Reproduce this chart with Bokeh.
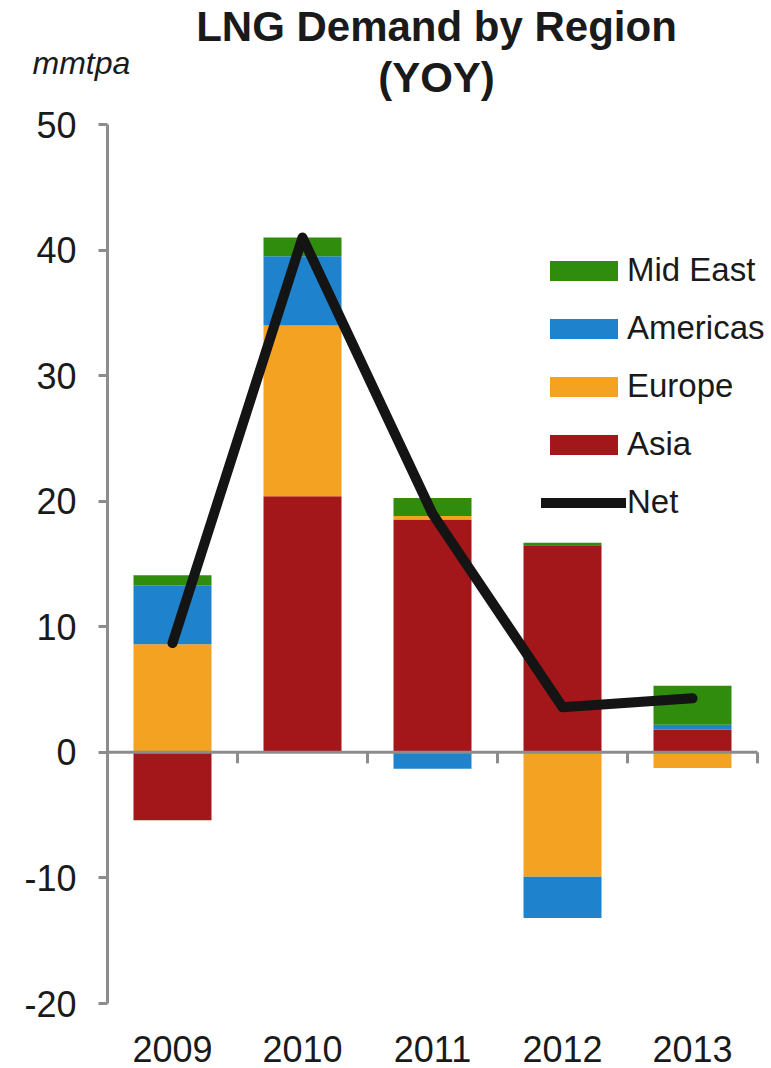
from bokeh.plotting import figure
from bokeh.models import (Range1d, FixedTicker, LinearAxis, Legend, LegendItem,
                          Label, ColumnDataSource)
from bokeh.embed import file_html
from bokeh.resources import INLINE

# LNG demand change by region, mmtpa year on year
years = ["2009", "2010", "2011", "2012", "2013"]
asia = [-5.4, 20.4, 18.55, 16.5, 1.8]
europe = [8.6, 13.6, 0.27, -9.9, -1.25]
americas = [4.7, 5.5, -1.3, -3.3, 0.4]
mid_east = [0.8, 1.5, 1.43, 0.2, 3.1]
net = [8.7, 41.0, 19.0, 3.6, 4.3]

series_names = ["Asia", "Europe", "Americas", "Mid East"]
series_values = [asia, europe, americas, mid_east]
series_colors = ["#A3171B", "#F3A221", "#1E83CC", "#2F8C0C"]

y_ticks = [-20, -10, 0, 10, 20, 30, 40, 50]

FONT = "Liberation Sans"
AXIS_GREY = "#8C8C8C"
TEXT = "#1A1A1A"

# layout in pixels
LEFT, AXIS_TOP, AXIS_BOTTOM, CAT_W = 107, 124, 1003, 130
W, H = 771, 1068
px_per_unit = (AXIS_BOTTOM - AXIS_TOP) / (y_ticks[-1] - y_ticks[0])

xs = list(range(1, len(years) + 1))
x_axis_pos = 0.5
x_lo = x_axis_pos - LEFT / CAT_W
x_hi = len(years) + 0.5 + (W - LEFT - CAT_W * len(years)) / CAT_W
y_hi = y_ticks[-1] + AXIS_TOP / px_per_unit
y_lo = y_ticks[0] - (H - AXIS_BOTTOM) / px_per_unit

p = figure(
    width=W, height=H,
    frame_width=W, frame_height=H,
    x_range=Range1d(x_lo, x_hi),
    y_range=Range1d(y_lo, y_hi),
    output_backend="svg", toolbar_location=None,
    min_border=0,
    x_axis_location=None, y_axis_location=None,
)
p.outline_line_color = None
p.xgrid.visible = False
p.ygrid.visible = False
p.background_fill_color = "white"
p.border_fill_color = "white"

# Stacked bars: positives stack upward, negatives stack downward
pos_base = [0.0] * len(years)
neg_base = [0.0] * len(years)
renderers = {}
for name, vals, color in zip(series_names, series_values, series_colors):
    bottoms, tops = [], []
    for i, v in enumerate(vals):
        if v >= 0:
            bottoms.append(pos_base[i])
            tops.append(pos_base[i] + v)
            pos_base[i] += v
        else:
            bottoms.append(neg_base[i])
            tops.append(neg_base[i] + v)
            neg_base[i] += v
    src = ColumnDataSource(dict(x=xs, bottom=bottoms, top=tops))
    renderers[name] = p.vbar(x="x", bottom="bottom", top="top", width=0.6,
                             source=src, fill_color=color, line_color=None)

# zero line with downward ticks between categories
p.segment(x0=[x_axis_pos], y0=[0], x1=[len(years) + 0.5], y1=[0],
          line_color=AXIS_GREY, line_width=3)
bounds = [x + 0.5 for x in xs]
p.segment(x0=bounds, y0=[0] * len(bounds), x1=bounds,
          y1=[-11 / px_per_unit] * len(bounds),
          line_color=AXIS_GREY, line_width=3)

# year labels along the bottom
year_axis = LinearAxis(
    fixed_location=y_ticks[0],
    ticker=FixedTicker(ticks=xs),
    major_label_overrides={x: y for x, y in zip(xs, years)},
    axis_line_color=None, major_tick_line_color=None, minor_tick_line_color=None,
    major_label_text_font=FONT, major_label_text_font_size="36px",
    major_label_text_color=TEXT, major_label_standoff=26,
)
p.add_layout(year_axis, "below")

y_axis = LinearAxis(
    fixed_location=x_axis_pos,
    ticker=FixedTicker(ticks=y_ticks),
    bounds=(y_ticks[0], y_ticks[-1]),
    major_label_overrides={t: str(t) for t in y_ticks},
    axis_line_color=AXIS_GREY, axis_line_width=3,
    major_tick_line_color=AXIS_GREY, major_tick_line_width=3,
    major_tick_in=0, major_tick_out=9,
    minor_tick_line_color=None,
    major_label_text_font=FONT, major_label_text_font_size="36px",
    major_label_text_color=TEXT, major_label_standoff=22,
)
p.add_layout(y_axis, "left")

# Net demand line
net_r = p.line(xs, net, line_color="#141414", line_width=10,
               line_cap="round", line_join="round")

legend = Legend(
    items=[LegendItem(label="Mid East", renderers=[renderers["Mid East"]]),
           LegendItem(label="Americas", renderers=[renderers["Americas"]]),
           LegendItem(label="Europe", renderers=[renderers["Europe"]]),
           LegendItem(label="Asia", renderers=[renderers["Asia"]]),
           LegendItem(label="Net", renderers=[net_r])],
    location=(541, 482 + H - AXIS_BOTTOM),
    glyph_width=85, glyph_height=25,
    label_text_font=FONT, label_text_font_size="33px",
    label_text_color=TEXT, label_standoff=1,
    spacing=20, padding=0, margin=0,
    border_line_color=None, background_fill_alpha=0,
)
p.add_layout(legend, "center")

# Title and unit label
mid_x = (xs[0] + xs[-1]) / 2
p.add_layout(Label(x=mid_x, y=y_ticks[-1], x_offset=4, y_offset=98,
                   text="LNG Demand by Region", text_align="center",
                   text_baseline="alphabetic", text_font=FONT,
                   text_font_size="42px", text_font_style="bold",
                   text_color=TEXT))
p.add_layout(Label(x=mid_x, y=y_ticks[-1], x_offset=4, y_offset=47,
                   text="(YOY)", text_align="center",
                   text_baseline="alphabetic", text_font=FONT,
                   text_font_size="42px", text_font_style="bold",
                   text_color=TEXT))
p.add_layout(Label(x=x_axis_pos, y=y_ticks[-1], x_offset=-75, y_offset=62,
                   text="mmtpa", text_align="left",
                   text_baseline="alphabetic", text_font=FONT,
                   text_font_size="32px", text_font_style="italic",
                   text_color=TEXT))

open("out.html", "w").write(file_html(p, INLINE))
